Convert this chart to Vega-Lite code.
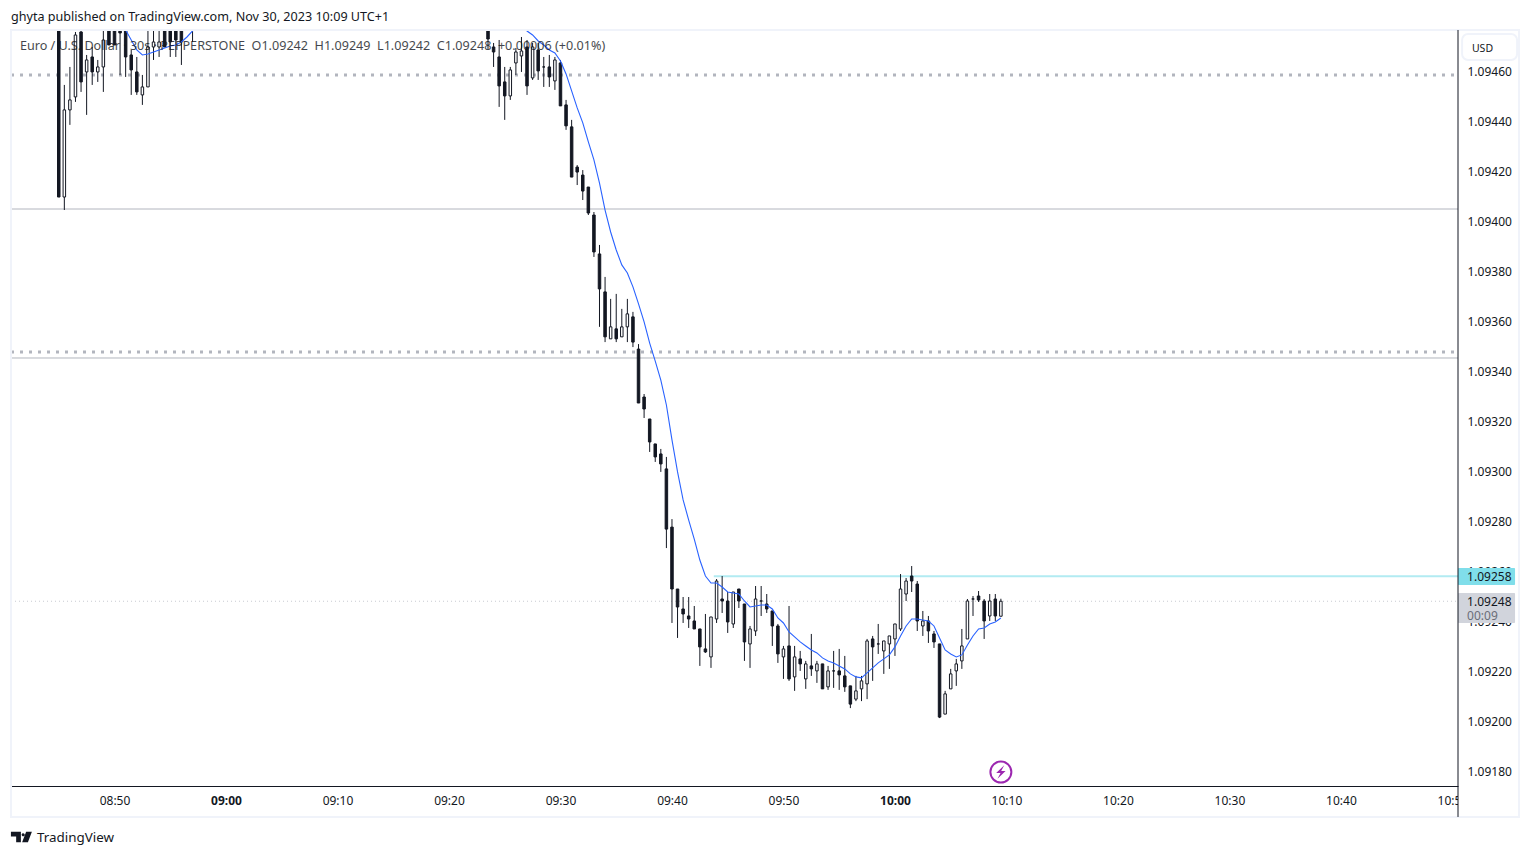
{
  "$schema": "https://vega.github.io/schema/vega-lite/v6.json",
  "width": 1447,
  "height": 756,
  "autosize": "none",
  "padding": {"left": 11, "top": 30, "right": 72, "bottom": 70},
  "background": "white",
  "title": {"text": "ghyta published on TradingView.com, Nov 30, 2023 10:09 UTC+1", "anchor": "start", "frame": "group", "offset": 5, "font": "Noto Sans", "fontSize": 12.6, "fontWeight": "normal", "color": "#131722"},
  "config": {"view": {"stroke": null}, "font": "Noto Sans"},
  "datasets": {
    "candles": [
      {"t":"2023-11-30T08:45:00Z","o":1.094808,"h":1.094828,"l":1.094099,"c":1.094099},
      {"t":"2023-11-30T08:45:30Z","o":1.094099,"h":1.094548,"l":1.094047,"c":1.094448},
      {"t":"2023-11-30T08:46:00Z","o":1.094448,"h":1.09462,"l":1.094388,"c":1.094488},
      {"t":"2023-11-30T08:46:30Z","o":1.0945,"h":1.09476,"l":1.09448,"c":1.094748},
      {"t":"2023-11-30T08:47:00Z","o":1.09476,"h":1.094788,"l":1.09452,"c":1.09456},
      {"t":"2023-11-30T08:47:30Z","o":1.0946,"h":1.094668,"l":1.094428,"c":1.094648},
      {"t":"2023-11-30T08:48:00Z","o":1.09466,"h":1.0947,"l":1.094548,"c":1.0946},
      {"t":"2023-11-30T08:48:30Z","o":1.0946,"h":1.094648,"l":1.09456,"c":1.09462},
      {"t":"2023-11-30T08:49:00Z","o":1.09462,"h":1.094808,"l":1.09452,"c":1.094728},
      {"t":"2023-11-30T08:49:30Z","o":1.094808,"h":1.094828,"l":1.094708,"c":1.094708},
      {"t":"2023-11-30T08:50:00Z","o":1.094808,"h":1.094828,"l":1.094708,"c":1.094708},
      {"t":"2023-11-30T08:50:30Z","o":1.094828,"h":1.094848,"l":1.094588,"c":1.094756},
      {"t":"2023-11-30T08:51:00Z","o":1.094828,"h":1.094848,"l":1.09458,"c":1.09466},
      {"t":"2023-11-30T08:51:30Z","o":1.094668,"h":1.094688,"l":1.094508,"c":1.094608},
      {"t":"2023-11-30T08:52:00Z","o":1.0946,"h":1.09466,"l":1.094508,"c":1.09452},
      {"t":"2023-11-30T08:52:30Z","o":1.094508,"h":1.094588,"l":1.094468,"c":1.09454},
      {"t":"2023-11-30T08:53:00Z","o":1.09454,"h":1.094808,"l":1.09454,"c":1.0947},
      {"t":"2023-11-30T08:53:30Z","o":1.0947,"h":1.094808,"l":1.094648,"c":1.09472},
      {"t":"2023-11-30T08:54:00Z","o":1.0947,"h":1.094808,"l":1.09466,"c":1.09472},
      {"t":"2023-11-30T08:54:30Z","o":1.094788,"h":1.094828,"l":1.0947,"c":1.0947},
      {"t":"2023-11-30T08:55:00Z","o":1.094808,"h":1.094828,"l":1.09466,"c":1.09472},
      {"t":"2023-11-30T08:55:30Z","o":1.094808,"h":1.094828,"l":1.09466,"c":1.094728},
      {"t":"2023-11-30T08:56:00Z","o":1.094808,"h":1.094828,"l":1.094628,"c":1.09472},
      {"t":"2023-11-30T08:57:00Z","o":1.094788,"h":1.094848,"l":1.09472,"c":1.094828},
      {"t":"2023-11-30T09:23:30Z","o":1.094808,"h":1.094828,"l":1.094692,"c":1.094732},
      {"t":"2023-11-30T09:24:00Z","o":1.0947,"h":1.094716,"l":1.09462,"c":1.09468},
      {"t":"2023-11-30T09:24:30Z","o":1.09466,"h":1.094728,"l":1.09446,"c":1.094544},
      {"t":"2023-11-30T09:25:00Z","o":1.09456,"h":1.09462,"l":1.094408,"c":1.094504},
      {"t":"2023-11-30T09:25:30Z","o":1.094504,"h":1.09462,"l":1.094488,"c":1.094608},
      {"t":"2023-11-30T09:26:00Z","o":1.094636,"h":1.094696,"l":1.094588,"c":1.09468},
      {"t":"2023-11-30T09:26:30Z","o":1.094664,"h":1.09474,"l":1.0946,"c":1.094684},
      {"t":"2023-11-30T09:27:00Z","o":1.0947,"h":1.094728,"l":1.094508,"c":1.094544},
      {"t":"2023-11-30T09:27:30Z","o":1.094576,"h":1.094716,"l":1.094568,"c":1.0947},
      {"t":"2023-11-30T09:28:00Z","o":1.094688,"h":1.094716,"l":1.094568,"c":1.094604},
      {"t":"2023-11-30T09:28:30Z","o":1.09462,"h":1.09466,"l":1.09454,"c":1.09462},
      {"t":"2023-11-30T09:29:00Z","o":1.09462,"h":1.094668,"l":1.09454,"c":1.09458},
      {"t":"2023-11-30T09:29:30Z","o":1.094564,"h":1.09466,"l":1.094528,"c":1.094648},
      {"t":"2023-11-30T09:30:00Z","o":1.094636,"h":1.094648,"l":1.094464,"c":1.094464},
      {"t":"2023-11-30T09:30:30Z","o":1.094468,"h":1.094488,"l":1.094368,"c":1.094384},
      {"t":"2023-11-30T09:31:00Z","o":1.09438,"h":1.094408,"l":1.094179,"c":1.094179},
      {"t":"2023-11-30T09:31:30Z","o":1.094219,"h":1.094227,"l":1.094147,"c":1.094199},
      {"t":"2023-11-30T09:32:00Z","o":1.094187,"h":1.094207,"l":1.094087,"c":1.094123},
      {"t":"2023-11-30T09:32:30Z","o":1.094139,"h":1.094139,"l":1.094027,"c":1.094035},
      {"t":"2023-11-30T09:33:00Z","o":1.094027,"h":1.094039,"l":1.093859,"c":1.093879},
      {"t":"2023-11-30T09:33:30Z","o":1.093871,"h":1.093907,"l":1.093579,"c":1.093731},
      {"t":"2023-11-30T09:34:00Z","o":1.093719,"h":1.093779,"l":1.093518,"c":1.093539},
      {"t":"2023-11-30T09:34:30Z","o":1.093531,"h":1.093691,"l":1.093531,"c":1.093579},
      {"t":"2023-11-30T09:35:00Z","o":1.093571,"h":1.093711,"l":1.093518,"c":1.093531},
      {"t":"2023-11-30T09:35:30Z","o":1.093539,"h":1.093651,"l":1.093539,"c":1.093579},
      {"t":"2023-11-30T09:36:00Z","o":1.093579,"h":1.093691,"l":1.093518,"c":1.093631},
      {"t":"2023-11-30T09:36:30Z","o":1.093619,"h":1.093639,"l":1.093498,"c":1.093518},
      {"t":"2023-11-30T09:37:00Z","o":1.09349,"h":1.09351,"l":1.093274,"c":1.093274},
      {"t":"2023-11-30T09:37:30Z","o":1.093298,"h":1.09331,"l":1.093214,"c":1.09325},
      {"t":"2023-11-30T09:38:00Z","o":1.09321,"h":1.09321,"l":1.093078,"c":1.093118},
      {"t":"2023-11-30T09:38:30Z","o":1.09311,"h":1.09311,"l":1.093038,"c":1.093058},
      {"t":"2023-11-30T09:39:00Z","o":1.09307,"h":1.09309,"l":1.092998,"c":1.09303},
      {"t":"2023-11-30T09:39:30Z","o":1.09301,"h":1.093058,"l":1.092693,"c":1.092769},
      {"t":"2023-11-30T09:40:00Z","o":1.092777,"h":1.092809,"l":1.092393,"c":1.092529},
      {"t":"2023-11-30T09:40:30Z","o":1.092529,"h":1.092529,"l":1.092333,"c":1.092457},
      {"t":"2023-11-30T09:41:00Z","o":1.092449,"h":1.092497,"l":1.092393,"c":1.092429},
      {"t":"2023-11-30T09:41:30Z","o":1.092421,"h":1.092497,"l":1.092373,"c":1.092409},
      {"t":"2023-11-30T09:42:00Z","o":1.092401,"h":1.092461,"l":1.092369,"c":1.092369},
      {"t":"2023-11-30T09:42:30Z","o":1.092369,"h":1.092369,"l":1.092221,"c":1.092297},
      {"t":"2023-11-30T09:43:00Z","o":1.092289,"h":1.092429,"l":1.092273,"c":1.092277},
      {"t":"2023-11-30T09:43:30Z","o":1.092257,"h":1.092417,"l":1.092213,"c":1.092417},
      {"t":"2023-11-30T09:44:00Z","o":1.092409,"h":1.092569,"l":1.092393,"c":1.092561},
      {"t":"2023-11-30T09:44:30Z","o":1.092489,"h":1.092581,"l":1.092433,"c":1.092481},
      {"t":"2023-11-30T09:45:00Z","o":1.092481,"h":1.092517,"l":1.092353,"c":1.092397},
      {"t":"2023-11-30T09:45:30Z","o":1.092389,"h":1.092517,"l":1.092373,"c":1.092517},
      {"t":"2023-11-30T09:46:00Z","o":1.092529,"h":1.092529,"l":1.092453,"c":1.092481},
      {"t":"2023-11-30T09:46:30Z","o":1.092469,"h":1.092469,"l":1.092241,"c":1.092317},
      {"t":"2023-11-30T09:47:00Z","o":1.092309,"h":1.092381,"l":1.092213,"c":1.092369},
      {"t":"2023-11-30T09:47:30Z","o":1.092361,"h":1.092541,"l":1.092341,"c":1.092489},
      {"t":"2023-11-30T09:48:00Z","o":1.092481,"h":1.092541,"l":1.092421,"c":1.092481},
      {"t":"2023-11-30T09:48:30Z","o":1.092469,"h":1.092509,"l":1.092433,"c":1.092449},
      {"t":"2023-11-30T09:49:00Z","o":1.092441,"h":1.092441,"l":1.092301,"c":1.092381},
      {"t":"2023-11-30T09:49:30Z","o":1.092381,"h":1.092389,"l":1.092233,"c":1.092269},
      {"t":"2023-11-30T09:50:00Z","o":1.092257,"h":1.092301,"l":1.092169,"c":1.092289},
      {"t":"2023-11-30T09:50:30Z","o":1.092301,"h":1.092461,"l":1.092161,"c":1.092169},
      {"t":"2023-11-30T09:51:00Z","o":1.092177,"h":1.092301,"l":1.092121,"c":1.092257},
      {"t":"2023-11-30T09:51:30Z","o":1.092249,"h":1.092281,"l":1.092201,"c":1.092229},
      {"t":"2023-11-30T09:52:00Z","o":1.092169,"h":1.092241,"l":1.092129,"c":1.092229},
      {"t":"2023-11-30T09:52:30Z","o":1.092221,"h":1.092349,"l":1.092181,"c":1.092209},
      {"t":"2023-11-30T09:53:00Z","o":1.092201,"h":1.092241,"l":1.092153,"c":1.092229},
      {"t":"2023-11-30T09:53:30Z","o":1.092229,"h":1.092229,"l":1.092129,"c":1.092129},
      {"t":"2023-11-30T09:54:00Z","o":1.092137,"h":1.092221,"l":1.092125,"c":1.092201},
      {"t":"2023-11-30T09:54:30Z","o":1.092201,"h":1.092281,"l":1.092133,"c":1.092201},
      {"t":"2023-11-30T09:55:00Z","o":1.092201,"h":1.092289,"l":1.092125,"c":1.092185},
      {"t":"2023-11-30T09:55:30Z","o":1.092181,"h":1.092261,"l":1.092117,"c":1.092137},
      {"t":"2023-11-30T09:56:00Z","o":1.092141,"h":1.092141,"l":1.092052,"c":1.092068},
      {"t":"2023-11-30T09:56:30Z","o":1.092088,"h":1.092181,"l":1.09208,"c":1.092121},
      {"t":"2023-11-30T09:57:00Z","o":1.092129,"h":1.092181,"l":1.09208,"c":1.092161},
      {"t":"2023-11-30T09:57:30Z","o":1.092149,"h":1.092329,"l":1.092088,"c":1.092321},
      {"t":"2023-11-30T09:58:00Z","o":1.092329,"h":1.092341,"l":1.092161,"c":1.092297},
      {"t":"2023-11-30T09:58:30Z","o":1.092309,"h":1.092389,"l":1.092269,"c":1.092309},
      {"t":"2023-11-30T09:59:00Z","o":1.092281,"h":1.092321,"l":1.092189,"c":1.092321},
      {"t":"2023-11-30T09:59:30Z","o":1.092309,"h":1.092341,"l":1.092209,"c":1.092341},
      {"t":"2023-11-30T10:00:00Z","o":1.092329,"h":1.092389,"l":1.092261,"c":1.092389},
      {"t":"2023-11-30T10:00:30Z","o":1.092369,"h":1.092589,"l":1.092361,"c":1.092529},
      {"t":"2023-11-30T10:01:00Z","o":1.092509,"h":1.092573,"l":1.092481,"c":1.092561},
      {"t":"2023-11-30T10:01:30Z","o":1.092581,"h":1.092621,"l":1.092517,"c":1.092561},
      {"t":"2023-11-30T10:02:00Z","o":1.092549,"h":1.092561,"l":1.092361,"c":1.092401},
      {"t":"2023-11-30T10:02:30Z","o":1.092381,"h":1.092441,"l":1.092341,"c":1.092401},
      {"t":"2023-11-30T10:03:00Z","o":1.092401,"h":1.092421,"l":1.092313,"c":1.092361},
      {"t":"2023-11-30T10:03:30Z","o":1.092349,"h":1.092361,"l":1.092293,"c":1.092317},
      {"t":"2023-11-30T10:04:00Z","o":1.092309,"h":1.092309,"l":1.092012,"c":1.092016},
      {"t":"2023-11-30T10:04:30Z","o":1.092028,"h":1.092121,"l":1.092028,"c":1.092109},
      {"t":"2023-11-30T10:05:00Z","o":1.092129,"h":1.092209,"l":1.092129,"c":1.092189},
      {"t":"2023-11-30T10:05:30Z","o":1.092201,"h":1.092249,"l":1.092141,"c":1.092229},
      {"t":"2023-11-30T10:06:00Z","o":1.092241,"h":1.092369,"l":1.092209,"c":1.092301},
      {"t":"2023-11-30T10:06:30Z","o":1.092329,"h":1.092489,"l":1.092329,"c":1.092481},
      {"t":"2023-11-30T10:07:00Z","o":1.092489,"h":1.092501,"l":1.092421,"c":1.092489},
      {"t":"2023-11-30T10:07:30Z","o":1.092501,"h":1.092521,"l":1.092477,"c":1.092485},
      {"t":"2023-11-30T10:08:00Z","o":1.092481,"h":1.092489,"l":1.092329,"c":1.092401},
      {"t":"2023-11-30T10:08:30Z","o":1.092421,"h":1.092509,"l":1.092401,"c":1.092481},
      {"t":"2023-11-30T10:09:00Z","o":1.092489,"h":1.092509,"l":1.092401,"c":1.092421},
      {"t":"2023-11-30T10:09:30Z","o":1.09242,"h":1.09249,"l":1.09242,"c":1.09248}
    ],
    "ma": [
      {"t":"2023-11-30T08:50:30Z","p":1.094808},{"t":"2023-11-30T08:51:00Z","p":1.094768},{"t":"2023-11-30T08:51:30Z","p":1.094728},
      {"t":"2023-11-30T08:52:00Z","p":1.094688},{"t":"2023-11-30T08:52:30Z","p":1.094668},{"t":"2023-11-30T08:53:00Z","p":1.094672},
      {"t":"2023-11-30T08:53:30Z","p":1.09468},{"t":"2023-11-30T08:54:00Z","p":1.094688},{"t":"2023-11-30T08:54:30Z","p":1.094696},
      {"t":"2023-11-30T08:55:00Z","p":1.094704},{"t":"2023-11-30T08:55:30Z","p":1.094708},{"t":"2023-11-30T08:56:00Z","p":1.09472},
      {"t":"2023-11-30T08:56:30Z","p":1.09474},{"t":"2023-11-30T08:57:00Z","p":1.094764},{"t":"2023-11-30T08:57:30Z","p":1.0948},
      {"t":"2023-11-30T09:26:30Z","p":1.094788},{"t":"2023-11-30T09:27:00Z","p":1.094764},{"t":"2023-11-30T09:27:30Z","p":1.094748},
      {"t":"2023-11-30T09:28:00Z","p":1.094724},{"t":"2023-11-30T09:28:30Z","p":1.094708},{"t":"2023-11-30T09:29:00Z","p":1.094688},
      {"t":"2023-11-30T09:29:30Z","p":1.094676},{"t":"2023-11-30T09:30:00Z","p":1.094644},{"t":"2023-11-30T09:30:30Z","p":1.094592},
      {"t":"2023-11-30T09:31:00Z","p":1.094524},{"t":"2023-11-30T09:31:30Z","p":1.094456},{"t":"2023-11-30T09:32:00Z","p":1.094396},
      {"t":"2023-11-30T09:32:30Z","p":1.09432},{"t":"2023-11-30T09:33:00Z","p":1.094248},{"t":"2023-11-30T09:33:30Z","p":1.094155},
      {"t":"2023-11-30T09:34:00Z","p":1.094047},{"t":"2023-11-30T09:34:30Z","p":1.093959},{"t":"2023-11-30T09:35:00Z","p":1.093887},
      {"t":"2023-11-30T09:35:30Z","p":1.093827},{"t":"2023-11-30T09:36:00Z","p":1.093795},{"t":"2023-11-30T09:36:30Z","p":1.093739},
      {"t":"2023-11-30T09:37:00Z","p":1.093671},{"t":"2023-11-30T09:37:30Z","p":1.093599},{"t":"2023-11-30T09:38:00Z","p":1.093514},
      {"t":"2023-11-30T09:38:30Z","p":1.093442},{"t":"2023-11-30T09:39:00Z","p":1.093366},{"t":"2023-11-30T09:39:30Z","p":1.093266},
      {"t":"2023-11-30T09:40:00Z","p":1.093126},{"t":"2023-11-30T09:40:30Z","p":1.092998},{"t":"2023-11-30T09:41:00Z","p":1.092886},
      {"t":"2023-11-30T09:41:30Z","p":1.092805},{"t":"2023-11-30T09:42:00Z","p":1.092729},{"t":"2023-11-30T09:42:30Z","p":1.092645},
      {"t":"2023-11-30T09:43:00Z","p":1.092581},{"t":"2023-11-30T09:43:30Z","p":1.092553},{"t":"2023-11-30T09:44:00Z","p":1.092553},
      {"t":"2023-11-30T09:44:30Z","p":1.092537},{"t":"2023-11-30T09:45:00Z","p":1.092517},{"t":"2023-11-30T09:45:30Z","p":1.092513},
      {"t":"2023-11-30T09:46:00Z","p":1.092509},{"t":"2023-11-30T09:46:30Z","p":1.092481},{"t":"2023-11-30T09:47:00Z","p":1.092457},
      {"t":"2023-11-30T09:47:30Z","p":1.092461},{"t":"2023-11-30T09:48:00Z","p":1.092465},{"t":"2023-11-30T09:48:30Z","p":1.092465},
      {"t":"2023-11-30T09:49:00Z","p":1.092449},{"t":"2023-11-30T09:49:30Z","p":1.092413},{"t":"2023-11-30T09:50:00Z","p":1.092393},
      {"t":"2023-11-30T09:50:30Z","p":1.092357},{"t":"2023-11-30T09:51:00Z","p":1.092337},{"t":"2023-11-30T09:51:30Z","p":1.092317},
      {"t":"2023-11-30T09:52:00Z","p":1.092301},{"t":"2023-11-30T09:52:30Z","p":1.092285},{"t":"2023-11-30T09:53:00Z","p":1.092273},
      {"t":"2023-11-30T09:53:30Z","p":1.092253},{"t":"2023-11-30T09:54:00Z","p":1.092241},{"t":"2023-11-30T09:54:30Z","p":1.092233},
      {"t":"2023-11-30T09:55:00Z","p":1.092221},{"t":"2023-11-30T09:55:30Z","p":1.092209},{"t":"2023-11-30T09:56:00Z","p":1.092189},
      {"t":"2023-11-30T09:56:30Z","p":1.092177},{"t":"2023-11-30T09:57:00Z","p":1.092173},{"t":"2023-11-30T09:57:30Z","p":1.092193},
      {"t":"2023-11-30T09:58:00Z","p":1.092213},{"t":"2023-11-30T09:58:30Z","p":1.092233},{"t":"2023-11-30T09:59:00Z","p":1.092249},
      {"t":"2023-11-30T09:59:30Z","p":1.092265},{"t":"2023-11-30T10:00:00Z","p":1.092297},{"t":"2023-11-30T10:00:30Z","p":1.092341},
      {"t":"2023-11-30T10:01:00Z","p":1.092381},{"t":"2023-11-30T10:01:30Z","p":1.092409},{"t":"2023-11-30T10:02:00Z","p":1.092409},
      {"t":"2023-11-30T10:02:30Z","p":1.092405},{"t":"2023-11-30T10:03:00Z","p":1.092401},{"t":"2023-11-30T10:03:30Z","p":1.092381},
      {"t":"2023-11-30T10:04:00Z","p":1.092333},{"t":"2023-11-30T10:04:30Z","p":1.092285},{"t":"2023-11-30T10:05:00Z","p":1.092269},
      {"t":"2023-11-30T10:05:30Z","p":1.092257},{"t":"2023-11-30T10:06:00Z","p":1.092265},{"t":"2023-11-30T10:06:30Z","p":1.092305},
      {"t":"2023-11-30T10:07:00Z","p":1.092341},{"t":"2023-11-30T10:07:30Z","p":1.092369},{"t":"2023-11-30T10:08:00Z","p":1.092373},
      {"t":"2023-11-30T10:08:30Z","p":1.092389},{"t":"2023-11-30T10:09:00Z","p":1.092397},{"t":"2023-11-30T10:09:30Z","p":1.092413}
    ]
  },
  "encoding": {
    "x": {
      "field": "t",
      "type": "temporal",
      "title": null,
      "scale": {"type": "utc", "padding": 0, "domain": ["2023-11-30T08:40:43Z", "2023-11-30T10:50:30Z"]},
      "axis": {
        "values": [1701334200000, 1701334800000, 1701335400000, 1701336000000, 1701336600000, 1701337200000, 1701337800000, 1701338400000, 1701339000000, 1701339600000, 1701340200000, 1701340800000, 1701341400000],
        "format": "%H:%M",
        "grid": false,
        "ticks": false,
        "labelPadding": 9,
        "labelFontSize": 12,
        "labelColor": "#131722",
        "labelFlush": false,
        "labelBound": false,
        "labelOverlap": false,
        "labelFontWeight": {"condition": {"test": "utcminutes(datum.value) === 0", "value": "bold"}, "value": "normal"},
        "domainColor": "#131722"
      }
    }
  },
  "layer": [
    {
      "data": {"values": [{"t": "2023-11-30T08:40:43Z", "t2": "2023-11-30T10:50:30Z", "p": 1.094051}, {"t": "2023-11-30T08:40:43Z", "t2": "2023-11-30T10:50:30Z", "p": 1.0934543}]},
      "mark": {"type": "rule", "color": "#b2b5be", "strokeWidth": 1},
      "encoding": {
        "x2": {"field": "t2"},
        "y": {"field": "p", "type": "quantitative", "title": null,
          "scale": {"domain": [1.09174, 1.094768], "nice": false, "zero": false},
          "axis": {"orient": "right", "values": [1.0918, 1.0920, 1.0922, 1.0924, 1.0926, 1.0928, 1.0930, 1.0932, 1.0934, 1.0936, 1.0938, 1.0940, 1.0942, 1.0944, 1.0946],
            "format": ".5f", "grid": false, "ticks": false, "labelPadding": 9, "labelFontSize": 12, "labelColor": "#131722", "labelBound": false, "labelOverlap": false, "domain": false}}
      }
    },
    {
      "data": {"values": [{"t": "2023-11-30T08:40:43Z", "t2": "2023-11-30T10:50:30Z", "p": 1.094588}, {"t": "2023-11-30T08:40:43Z", "t2": "2023-11-30T10:50:30Z", "p": 1.093478}]},
      "mark": {"type": "rule", "color": "#b2b5be", "strokeWidth": 3, "strokeDash": [3, 6]},
      "encoding": {"x2": {"field": "t2"}, "y": {"field": "p", "type": "quantitative", "title": null}}
    },
    {
      "data": {"values": [{"t": "2023-11-30T08:40:43Z", "t2": "2023-11-30T10:50:30Z", "p": 1.09248}]},
      "mark": {"type": "rule", "color": "#c8cad1", "strokeWidth": 1, "strokeDash": [1, 3]},
      "encoding": {"x2": {"field": "t2"}, "y": {"field": "p", "type": "quantitative", "title": null}}
    },
    {
      "data": {"values": [{"t": "2023-11-30T09:43:45Z", "t2": "2023-11-30T10:50:30Z", "p": 1.09258}]},
      "mark": {"type": "rule", "color": "#b2ebf2", "strokeWidth": 2},
      "encoding": {"x2": {"field": "t2"}, "y": {"field": "p", "type": "quantitative", "title": null}}
    },
    {
      "data": {"name": "candles"},
      "mark": {"type": "rule", "color": "#131722", "strokeWidth": 1, "clip": true},
      "encoding": {"y": {"field": "l", "type": "quantitative", "title": null}, "y2": {"field": "h"}}
    },
    {
      "data": {"name": "candles"},
      "mark": {"type": "bar", "size": 2.5, "stroke": "#131722", "strokeWidth": 1, "clip": true},
      "encoding": {
        "y": {"field": "o", "type": "quantitative", "title": null},
        "y2": {"field": "c"},
        "fill": {"condition": {"test": "datum.c >= datum.o", "value": "#ffffff"}, "value": "#131722"}
      }
    },
    {
      "data": {"name": "ma"},
      "mark": {"type": "line", "color": "#2962ff", "strokeWidth": 1.1, "clip": true},
      "encoding": {"y": {"field": "p", "type": "quantitative", "title": null}}
    },
    {
      "data": {"values": [{"t": "2023-11-30T08:41:31Z", "p": 1.094704, "label": "Euro / U.S. Dollar · 30s · PEPPERSTONE\u00a0\u00a0O1.09242\u00a0\u00a0H1.09249\u00a0\u00a0L1.09242\u00a0\u00a0C1.09248\u00a0\u00a0+0.00006 (+0.01%)"}]},
      "mark": {"type": "text", "align": "left", "baseline": "middle", "fontSize": 12.6, "color": "#131722", "opacity": 0.8},
      "encoding": {"y": {"field": "p", "type": "quantitative", "title": null}, "text": {"field": "label"}}
    },
    {
      "data": {"values": [{"t": "2023-11-30T10:50:30Z", "t2": "2023-11-30T10:55:50Z", "p": 1.091736, "p2": 1.091624}]},
      "mark": {"type": "rect", "color": "#ffffff"},
      "encoding": {"x2": {"field": "t2"}, "y": {"field": "p", "type": "quantitative", "title": null}, "y2": {"field": "p2"}}
    },
    {
      "data": {"values": [{"t": "2023-11-30T08:40:43Z", "t2": "2023-11-30T10:55:58Z", "p": 1.094768, "p2": 1.091616}]},
      "mark": {"type": "rect", "filled": false, "stroke": "#f0f3fa", "strokeWidth": 2},
      "encoding": {"x2": {"field": "t2"}, "y": {"field": "p", "type": "quantitative", "title": null}, "y2": {"field": "p2"}}
    },
    {
      "data": {"values": [{"t": "2023-11-30T10:50:52Z", "t2": "2023-11-30T10:55:48Z", "p": 1.094752, "p2": 1.094648}]},
      "mark": {"type": "rect", "filled": false, "stroke": "#f0f3fa", "strokeWidth": 2, "cornerRadius": 6},
      "encoding": {"x2": {"field": "t2"}, "y": {"field": "p", "type": "quantitative", "title": null}, "y2": {"field": "p2"}}
    },
    {
      "data": {"values": [{"t": "2023-11-30T10:50:30Z", "t2": "2023-11-30T10:55:37Z", "p": 1.092613, "p2": 1.092545}]},
      "mark": {"type": "rect", "color": "#80deea", "cornerRadius": 1},
      "encoding": {"x2": {"field": "t2"}, "y": {"field": "p", "type": "quantitative", "title": null}, "y2": {"field": "p2"}}
    },
    {
      "data": {"values": [{"t": "2023-11-30T10:50:30Z", "t2": "2023-11-30T10:55:37Z", "p": 1.092513, "p2": 1.092393}]},
      "mark": {"type": "rect", "color": "#d1d4dc", "cornerRadius": 1},
      "encoding": {"x2": {"field": "t2"}, "y": {"field": "p", "type": "quantitative", "title": null}, "y2": {"field": "p2"}}
    },
    {
      "data": {"values": [
        {"t": "2023-11-30T10:51:19Z", "p": 1.092576, "label": "1.09258"},
        {"t": "2023-11-30T10:51:19Z", "p": 1.092476, "label": "1.09248"}
      ]},
      "mark": {"type": "text", "align": "left", "baseline": "middle", "fontSize": 12, "color": "#131722"},
      "encoding": {"y": {"field": "p", "type": "quantitative", "title": null}, "text": {"field": "label"}}
    },
    {
      "data": {"values": [{"t": "2023-11-30T10:51:19Z", "p": 1.092421, "label": "00:09"}]},
      "mark": {"type": "text", "align": "left", "baseline": "middle", "fontSize": 12, "color": "#6a6d78"},
      "encoding": {"y": {"field": "p", "type": "quantitative", "title": null}, "text": {"field": "label"}}
    },
    {
      "data": {"values": [{"t": "2023-11-30T10:51:45Z", "p": 1.094692, "label": "USD"}]},
      "mark": {"type": "text", "align": "left", "baseline": "middle", "fontSize": 10.5, "color": "#131722"},
      "encoding": {"y": {"field": "p", "type": "quantitative", "title": null}, "text": {"field": "label"}}
    },
    {
      "data": {"values": [{"t": "2023-11-30T08:43:03Z", "p": 1.091532, "label": "TradingView"}]},
      "mark": {"type": "text", "align": "left", "baseline": "middle", "fontSize": 13.4, "color": "#131722"},
      "encoding": {"y": {"field": "p", "type": "quantitative", "title": null}, "text": {"field": "label"}}
    },
    {
      "data": {"values": [{"t": "2023-11-30T10:09:30Z", "p": 1.091796}]},
      "mark": {"type": "point", "shape": "circle", "size": 440, "filled": false, "stroke": "#9c27b0", "strokeWidth": 2, "opacity": 1},
      "encoding": {"y": {"field": "p", "type": "quantitative", "title": null}}
    },
    {
      "data": {"values": [{"t": "2023-11-30T10:09:30Z", "p": 1.091796}]},
      "mark": {"type": "point", "shape": "M0.5 -1L-0.7 0.15H-0.05L-0.5 1L0.7 -0.15H0.05Z", "size": 180, "filled": true, "color": "#9c27b0", "opacity": 1},
      "encoding": {"y": {"field": "p", "type": "quantitative", "title": null}}
    },
    {
      "data": {"values": [{"t": "2023-11-30T08:41:39Z", "p": 1.091536}]},
      "mark": {"type": "point", "shape": "M-1 -.5H-.05V.5H-.5V-.05H-1ZM.02 -.2A.15 .15 0 1 0 .02 -.21ZM.45 -.5H1L.62 .5H.07Z", "size": 440, "filled": true, "color": "#131722", "opacity": 1},
      "encoding": {"y": {"field": "p", "type": "quantitative", "title": null}}
    },
    {
      "data": {"values": [{"t": "2023-11-30T10:50:30Z", "p": 1.094768, "p2": 1.091616}]},
      "mark": {"type": "rule", "color": "#131722", "strokeWidth": 1},
      "encoding": {"y": {"field": "p", "type": "quantitative", "title": null}, "y2": {"field": "p2"}}
    }
  ]
}
